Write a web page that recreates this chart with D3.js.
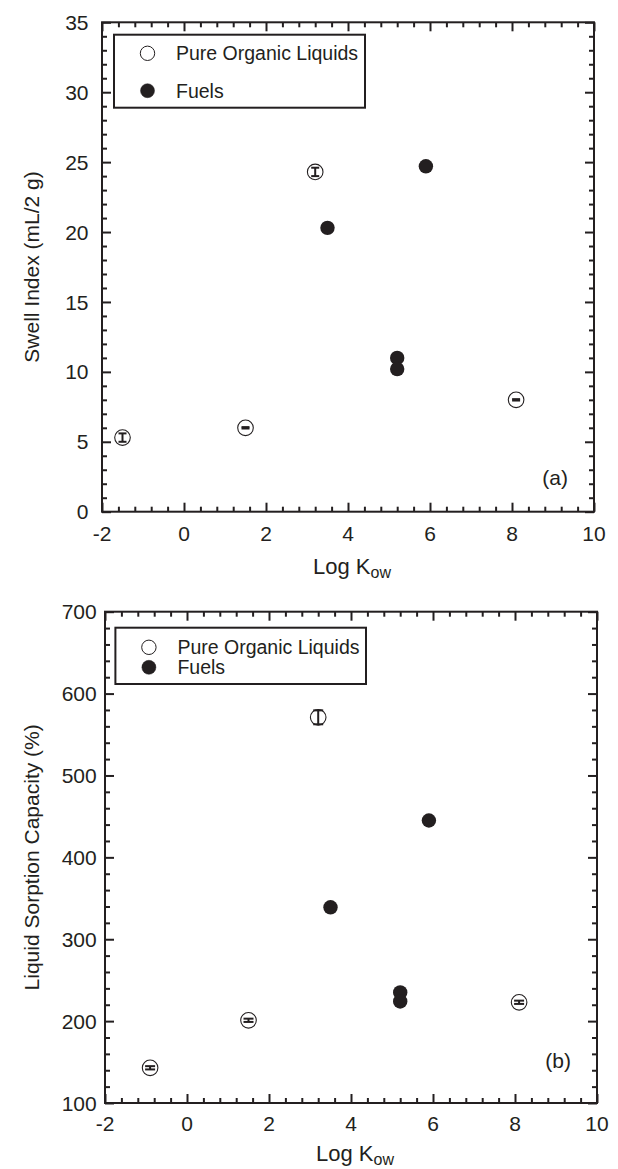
<!DOCTYPE html>
<html>
<head>
<meta charset="utf-8">
<script src="https://cdn.jsdelivr.net/npm/d3@7"></script>
<style>
  html, body { margin: 0; padding: 0; background: #fff; }
  svg { display: block; }
  text { font-family: "Liberation Sans", Arial, Helvetica, sans-serif; fill: #231f20; }
</style>
</head>
<body>
<svg id="chart" width="618" height="1169"></svg>
<script>
// ---------------- data ----------------
const xTicks = [-2, 0, 2, 4, 6, 8, 10];
const swellTicks = [0, 5, 10, 15, 20, 25, 30, 35];
const sorptionTicks = [100, 200, 300, 400, 500, 600, 700];
const legendLabels = ["Pure Organic Liquids", "Fuels"];

// panel (a) : swell index
const pureLogKowA = [-1.5, 1.5, 3.2, 8.1];
const pureSwell = [5.3, 6.0, 24.3, 8.0];
const pureSwellErr = [0.3, 0.05, 0.3, 0.05];
const fuelLogKowA = [3.5, 5.2, 5.2, 5.9];
const fuelSwell = [20.3, 11.0, 10.2, 24.7];

// panel (b) : liquid sorption capacity
const pureLogKowB = [-0.9, 1.5, 3.2, 8.1];
const pureSorption = [143, 201, 571, 223];
const pureSorptionErr = [2, 2, 8.5, 2];
const fuelLogKowB = [3.5, 5.2, 5.2, 5.9];
const fuelSorption = [339, 235, 224, 445];

// ---------------- drawing ----------------
const ink = "#231f20";
const svg = d3.select("#chart");

function panel(cfg) {
  const g = svg.append("g");
  const x = d3.scaleLinear().domain([-2, 10]).range([cfg.left, cfg.right]);
  const y = d3.scaleLinear().domain(cfg.yDomain).range([cfg.bottom, cfg.top]);
  const xMinor = d3.range(-2, 10.001, 0.4).map(v => +v.toFixed(2)).filter(v => !xTicks.includes(v));
  const yMinor = d3.range(cfg.yDomain[0], cfg.yDomain[1] + 1e-9, cfg.yMinorStep)
                   .map(v => +v.toFixed(3)).filter(v => !cfg.yTicks.includes(v));

  const styleAxis = sel => {
    sel.select(".domain").remove();
    sel.selectAll("line").attr("stroke", ink).attr("stroke-width", 2);
  };

  const makers = [
    () => d3.axisBottom(x), () => d3.axisTop(x), () => d3.axisLeft(y), () => d3.axisRight(y)
  ];
  const sides = [
    { t: `translate(0,${cfg.bottom})`, vals: xTicks, minor: xMinor },
    { t: `translate(0,${cfg.top})`, vals: xTicks, minor: xMinor },
    { t: `translate(${cfg.left},0)`, vals: cfg.yTicks, minor: yMinor },
    { t: `translate(${cfg.right},0)`, vals: cfg.yTicks, minor: yMinor }
  ];
  sides.forEach((s, i) => {
    const major = g.append("g").attr("transform", s.t)
      .call(makers[i]().tickValues(s.vals).tickSize(-9).tickFormat(""));
    styleAxis(major);
    const minor = g.append("g").attr("transform", s.t)
      .call(makers[i]().tickValues(s.minor).tickSize(-5).tickFormat(""));
    styleAxis(minor);
  });

  // tick labels
  g.selectAll(".xlab").data(xTicks).enter().append("text")
    .attr("x", d => x(d)).attr("y", cfg.bottom + cfg.xLabGap)
    .attr("text-anchor", "middle").style("font-size", "21px").text(d => d);
  g.selectAll(".ylab").data(cfg.yTicks).enter().append("text")
    .attr("x", cfg.left - cfg.yLabGap).attr("y", d => y(d)).attr("dy", "0.36em")
    .attr("text-anchor", "end").style("font-size", "21px").text(d => d);

  // frame
  g.append("rect").attr("x", cfg.left).attr("y", cfg.top)
    .attr("width", cfg.right - cfg.left).attr("height", cfg.bottom - cfg.top)
    .attr("fill", "none").attr("stroke", ink).attr("stroke-width", 2);

  // axis titles
  const xt = g.append("text").attr("x", (cfg.left + cfg.right) / 2 + 4).attr("y", cfg.bottom + cfg.xTitleGap)
    .attr("text-anchor", "middle").style("font-size", "22px");
  xt.append("tspan").text("Log K");
  xt.append("tspan").attr("dy", 4).style("font-size", "16px").text("ow");

  g.append("text")
    .attr("transform", `translate(${cfg.yTitleX},${(cfg.top + cfg.bottom) / 2}) rotate(-90)`)
    .attr("text-anchor", "middle").style("font-size", "21px").text(cfg.yTitle);

  // panel tag
  g.append("text").attr("x", x(9.05)).attr("y", cfg.tagY).attr("text-anchor", "middle")
    .style("font-size", "21px").text(cfg.tag);

  // legend
  const lg = g.append("g");
  lg.append("rect").attr("x", cfg.legend.x).attr("y", cfg.legend.y)
    .attr("width", cfg.legend.w).attr("height", cfg.legend.h)
    .attr("fill", "#fff").attr("stroke", ink).attr("stroke-width", 2);
  legendLabels.forEach((lab, i) => {
    const cy = cfg.legend.rows[i];
    lg.append("circle").attr("cx", cfg.legend.x + 33.5).attr("cy", cy).attr("r", i === 0 ? 7.2 : 7)
      .attr("fill", i === 0 ? "#fff" : ink).attr("stroke", ink).attr("stroke-width", i === 0 ? 1 : 0.5);
    lg.append("text").attr("x", cfg.legend.x + 62).attr("y", cy).attr("dy", "0.36em")
      .style("font-size", "19.5px").text(lab);
  });

  // fuels (filled)
  g.selectAll(".fuel").data(cfg.fuelX).enter().append("circle")
    .attr("cx", d => x(d)).attr("cy", (d, i) => y(cfg.fuelY[i])).attr("r", 7.2)
    .attr("fill", ink);

  // pure organic liquids (open, with error bars)
  const pts = cfg.pureX.map((d, i) => ({ x: d, y: cfg.pureY[i], e: cfg.pureE[i] }));
  const pg = g.selectAll(".pure").data(pts).enter().append("g");
  pg.append("circle").attr("cx", d => x(d.x)).attr("cy", d => y(d.y)).attr("r", 7.8)
    .attr("fill", "#fff").attr("stroke", ink).attr("stroke-width", 1.1);
  pg.append("line").attr("x1", d => x(d.x)).attr("x2", d => x(d.x))
    .attr("y1", d => y(d.y - d.e)).attr("y2", d => y(d.y + d.e))
    .attr("stroke", ink).attr("stroke-width", 2);
  [-1, 1].forEach(s => {
    pg.append("line")
      .attr("x1", d => x(d.x) - cfg.cap).attr("x2", d => x(d.x) + cfg.cap)
      .attr("y1", d => y(d.y + s * d.e)).attr("y2", d => y(d.y + s * d.e))
      .attr("stroke", ink).attr("stroke-width", 2);
  });
}

panel({
  left: 102, right: 594, top: 22.3, bottom: 511.7,
  yDomain: [0, 35], yTicks: swellTicks, yMinorStep: 1,
  xLabGap: 29.5, yLabGap: 13.5, xTitleGap: 62, yTitleX: 39,
  yTitle: "Swell Index (mL/2 g)", tag: "(a)", tagY: 485,
  legend: { x: 114, y: 34.7, w: 251, h: 73, rows: [53.3, 90.7] },
  pureX: pureLogKowA, pureY: pureSwell, pureE: pureSwellErr,
  fuelX: fuelLogKowA, fuelY: fuelSwell, cap: 4
});

panel({
  left: 105, right: 597, top: 611.7, bottom: 1103,
  yDomain: [100, 700], yTicks: sorptionTicks, yMinorStep: 20,
  xLabGap: 27.5, yLabGap: 8.3, xTitleGap: 58, yTitleX: 39,
  yTitle: "Liquid Sorption Capacity (%)", tag: "(b)", tagY: 1068,
  legend: { x: 115.4, y: 627.7, w: 250.6, h: 56.3, rows: [647.3, 667.3] },
  pureX: pureLogKowB, pureY: pureSorption, pureE: pureSorptionErr,
  fuelX: fuelLogKowB, fuelY: fuelSorption, cap: 5
});
</script>
</body>
</html>
